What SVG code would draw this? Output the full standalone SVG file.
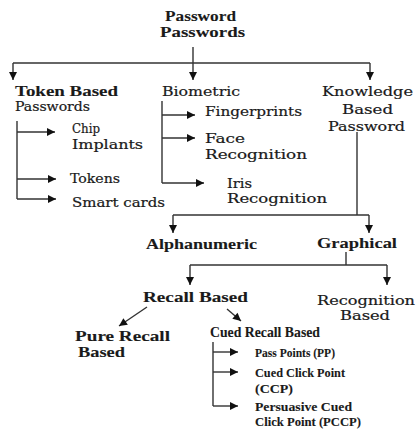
<svg xmlns="http://www.w3.org/2000/svg" width="417" height="432" viewBox="0 0 417 432">
<style>
text{font-family:"DejaVu Serif","Liberation Serif",serif;font-size:12px;fill:#1a1a1a;stroke:#1a1a1a;stroke-width:0.2}
.b{font-family:"Liberation Serif","Times New Roman",serif;font-size:15px;font-weight:bold;stroke-width:0.1}
.s{font-size:13.5px}
.m{font-size:14px}
.c path{fill:none;stroke:#333;stroke-width:1.4}
</style>
<defs>
<marker id="ah" markerUnits="userSpaceOnUse" markerWidth="10" markerHeight="10" viewBox="0 0 10 10" refX="9" refY="5" orient="auto">
<path d="M1,1 L9,5 L1,9 Z" fill="#111"/>
</marker>
</defs>
<rect width="417" height="432" fill="#fff"/>
<g id="connectors" class="c">
<path d="M193 47 V80" marker-end="url(#ah)"/>
<path d="M13 63 H370"/>
<path d="M13 63 V80" marker-end="url(#ah)"/>
<path d="M370 63 V80" marker-end="url(#ah)"/>
<path d="M17 121 V199"/>
<path d="M17 132 H55" marker-end="url(#ah)"/>
<path d="M17 179 H56" marker-end="url(#ah)"/>
<path d="M17 199 H56" marker-end="url(#ah)"/>
<path d="M162 101 V183"/>
<path d="M162 115 H195" marker-end="url(#ah)"/>
<path d="M162 138 H195" marker-end="url(#ah)"/>
<path d="M162 183 H204" marker-end="url(#ah)"/>
<path d="M357 132 V215"/>
<path d="M173 215 H369"/>
<path d="M173 215 V233" marker-end="url(#ah)"/>
<path d="M369 215 V233" marker-end="url(#ah)"/>
<path d="M346 252 V265"/>
<path d="M190 265 H387"/>
<path d="M190 265 V285" marker-end="url(#ah)"/>
<path d="M387 265 V285" marker-end="url(#ah)"/>
<path d="M147 307 L119 326" marker-end="url(#ah)"/>
<path d="M227 309 L241 321" marker-end="url(#ah)"/>
<path d="M213 342 V406"/>
<path d="M213 352 H238" marker-end="url(#ah)"/>
<path d="M213 372 H238" marker-end="url(#ah)"/>
<path d="M213 406 H238" marker-end="url(#ah)"/>
</g>
<g id="root"><text class="b" x="165" y="21" textLength="71" lengthAdjust="spacingAndGlyphs">Password</text><text class="b" x="160" y="37" textLength="85" lengthAdjust="spacingAndGlyphs">Passwords</text></g>
<g id="token"><text class="b" x="15" y="96" textLength="103" lengthAdjust="spacingAndGlyphs">Token Based</text><text x="15" y="111" textLength="75" lengthAdjust="spacingAndGlyphs">Passwords</text></g>
<g id="biometric"><text x="162" y="96" textLength="78" lengthAdjust="spacingAndGlyphs">Biometric</text></g>
<g id="knowledge"><text x="322" y="96" textLength="91" lengthAdjust="spacingAndGlyphs">Knowledge</text><text x="342" y="114" textLength="51" lengthAdjust="spacingAndGlyphs">Based</text><text x="328" y="131" textLength="77" lengthAdjust="spacingAndGlyphs">Password</text></g>
<g id="chip"><text x="72" y="133" textLength="28" lengthAdjust="spacingAndGlyphs">Chip</text><text x="72" y="149" textLength="71" lengthAdjust="spacingAndGlyphs">Implants</text></g>
<g id="tokens"><text x="70" y="183" textLength="50" lengthAdjust="spacingAndGlyphs">Tokens</text></g>
<g id="smartcards"><text x="72" y="207" textLength="93" lengthAdjust="spacingAndGlyphs">Smart cards</text></g>
<g id="fingerprints"><text x="205" y="116" textLength="97" lengthAdjust="spacingAndGlyphs">Fingerprints</text></g>
<g id="face"><text x="205" y="143" textLength="40" lengthAdjust="spacingAndGlyphs">Face</text><text x="205" y="159" textLength="102" lengthAdjust="spacingAndGlyphs">Recognition</text></g>
<g id="iris"><text x="227" y="188" textLength="25" lengthAdjust="spacingAndGlyphs">Iris</text><text x="227" y="203" textLength="100" lengthAdjust="spacingAndGlyphs">Recognition</text></g>
<g id="alphanumeric"><text class="b" x="146" y="249" textLength="111" lengthAdjust="spacingAndGlyphs">Alphanumeric</text></g>
<g id="graphical"><text class="b" x="317" y="248" textLength="80" lengthAdjust="spacingAndGlyphs">Graphical</text></g>
<g id="recall"><text class="b" x="143" y="302" textLength="105" lengthAdjust="spacingAndGlyphs">Recall Based</text></g>
<g id="recognition"><text x="317" y="305" textLength="98" lengthAdjust="spacingAndGlyphs">Recognition</text><text x="340" y="320" textLength="50" lengthAdjust="spacingAndGlyphs">Based</text></g>
<g id="pure"><text class="b m" x="75" y="341" textLength="95" lengthAdjust="spacingAndGlyphs">Pure Recall</text><text class="b m" x="78" y="357" textLength="47" lengthAdjust="spacingAndGlyphs">Based</text></g>
<g id="cued"><text class="b" x="210" y="337" textLength="110" lengthAdjust="spacingAndGlyphs">Cued Recall Based</text></g>
<g id="pp"><text class="b s" x="255" y="357" textLength="80" lengthAdjust="spacingAndGlyphs">Pass Points (PP)</text></g>
<g id="ccp"><text class="b s" x="255" y="377" textLength="90" lengthAdjust="spacingAndGlyphs">Cued Click Point</text><text class="b s" x="255" y="393" textLength="38" lengthAdjust="spacingAndGlyphs">(CCP)</text></g>
<g id="pccp"><text class="b s" x="255" y="411" textLength="97" lengthAdjust="spacingAndGlyphs">Persuasive Cued</text><text class="b s" x="255" y="426" textLength="106" lengthAdjust="spacingAndGlyphs">Click Point (PCCP)</text></g>
</svg>
